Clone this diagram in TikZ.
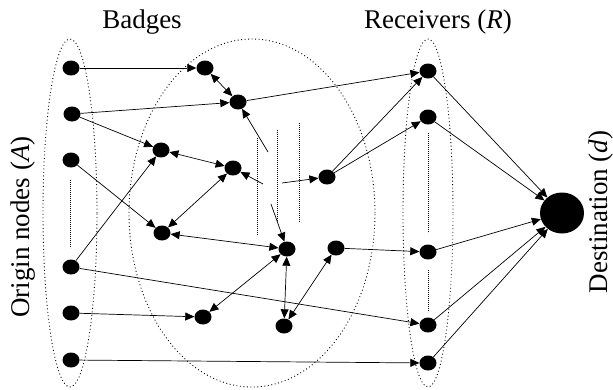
\documentclass[tikz,border=0pt]{standalone}
\usepackage{fontspec}
\setmainfont{Liberation Serif}
\usetikzlibrary{arrows.meta,shapes.geometric}
\begin{document}
\begin{tikzpicture}[x=1pt,y=-1pt,
  dot/.style={ellipse, fill=black, minimum width=17pt, minimum height=15pt, inner sep=0pt},
  dest/.style={ellipse, fill=black, minimum width=44pt, minimum height=41pt, inner sep=0pt},
  arr/.style={-{Triangle[length=9pt,width=8pt]}, line width=0.7pt},
  darr/.style={{Triangle[length=9pt,width=8pt]}-{Triangle[length=9pt,width=8pt]}, line width=0.7pt},
  grp/.style={draw, dash pattern=on 0.9pt off 2.6pt, line width=0.9pt},
  gap/.style={draw, dash pattern=on 1.2pt off 0.8pt, line width=0.7pt},
  lbl/.style={font=\fontsize{27}{32}\selectfont, inner sep=0pt}
]
\useasboundingbox (0,0) rectangle (613,389);
% groups
\draw[grp] (70,213) ellipse [x radius=27pt, y radius=174pt];
\draw[grp] (252,213) ellipse [x radius=123pt, y radius=174pt];
\draw[grp] (428,213) ellipse [x radius=25pt, y radius=174pt];
% gaps
\draw[gap] (70,180) -- (70,248);
\draw[gap] (257,138) -- (257,235);
\draw[gap] (277,130) -- (277,222);
\draw[gap] (299,123) -- (299,222);
\draw[gap] (428,133) -- (428,233);
\draw[gap] (428,270) -- (428,312);
% labels
\node[lbl] (tb) at (142,22) {Badges};
\node[lbl] (tr) at (438,22) {Receivers (\textit{R})};
\node[lbl, rotate=90] (ta) at (23,227) {Origin nodes (\textit{A})};
\node[lbl, rotate=90] (td) at (601,212) {Destination (\textit{d})};
% nodes
\node[dot] (o1) at (71,68) {};
\node[dot] (o2) at (72,114) {};
\node[dot] (o3) at (71,160) {};
\node[dot] (o4) at (71,267) {};
\node[dot] (o5) at (71,313) {};
\node[dot] (o6) at (71,360) {};
\node[dot] (b1) at (205,68) {};
\node[dot] (b2) at (238,102) {};
\node[dot] (b3) at (161,150) {};
\node[dot] (b4) at (233,168) {};
\node[dot] (b5) at (162,233) {};
\node[dot] (b6) at (327,177) {};
\node[dot] (b7) at (287,249) {};
\node[dot] (b8) at (336,248) {};
\node[dot] (b9) at (203,317) {};
\node[dot] (b10) at (284,326) {};
\node[dot] (r1) at (428,71) {};
\node[dot] (r2) at (428,117) {};
\node[dot] (r3) at (428,252) {};
\node[dot] (r4) at (428,325) {};
\node[dot] (r5) at (428,363) {};
\node[dest] (d) at (562,213) {};
\coordinate (f1) at (268,152);
\coordinate (f2) at (263,184);
\coordinate (f3) at (282,183);
\coordinate (f4) at (271,204);
% edges
\draw[arr] (o1) -- (b1);
\draw[arr] (o2) -- (b2);
\draw[arr] (o2) -- (b3);
\draw[arr] (o3) -- (b5);
\draw[arr] (o4) -- (b3);
\draw[arr] (o4) -- (r4);
\draw[arr] (o5) -- (b9);
\draw[arr] (o6) -- (r5);
\draw[darr] (b1) -- (b2);
\draw[arr] (b2) -- (r1);
\draw[darr] (b3) -- (b4);
\draw[darr] (b5) -- (b4);
\draw[darr] (b5) -- (b7);
\draw[darr] (b9) -- (b7);
\draw[darr] (b7) -- (b10);
\draw[darr] (b10) -- (b8);
\draw[arr] (b8) -- (r3);
\draw[arr] (b6) -- (r1);
\draw[arr] (b6) -- (r2);
\draw[arr] (f1) -- (b2);
\draw[arr] (f2) -- (b4);
\draw[arr] (f3) -- (b6);
\draw[arr] (f4) -- (b7);
\draw[arr] (r1) -- (d);
\draw[arr] (r2) -- (d);
\draw[arr] (r3) -- (d);
\draw[arr] (r4) -- (d);
\draw[arr] (r5) -- (d);
\end{tikzpicture}
\end{document}
